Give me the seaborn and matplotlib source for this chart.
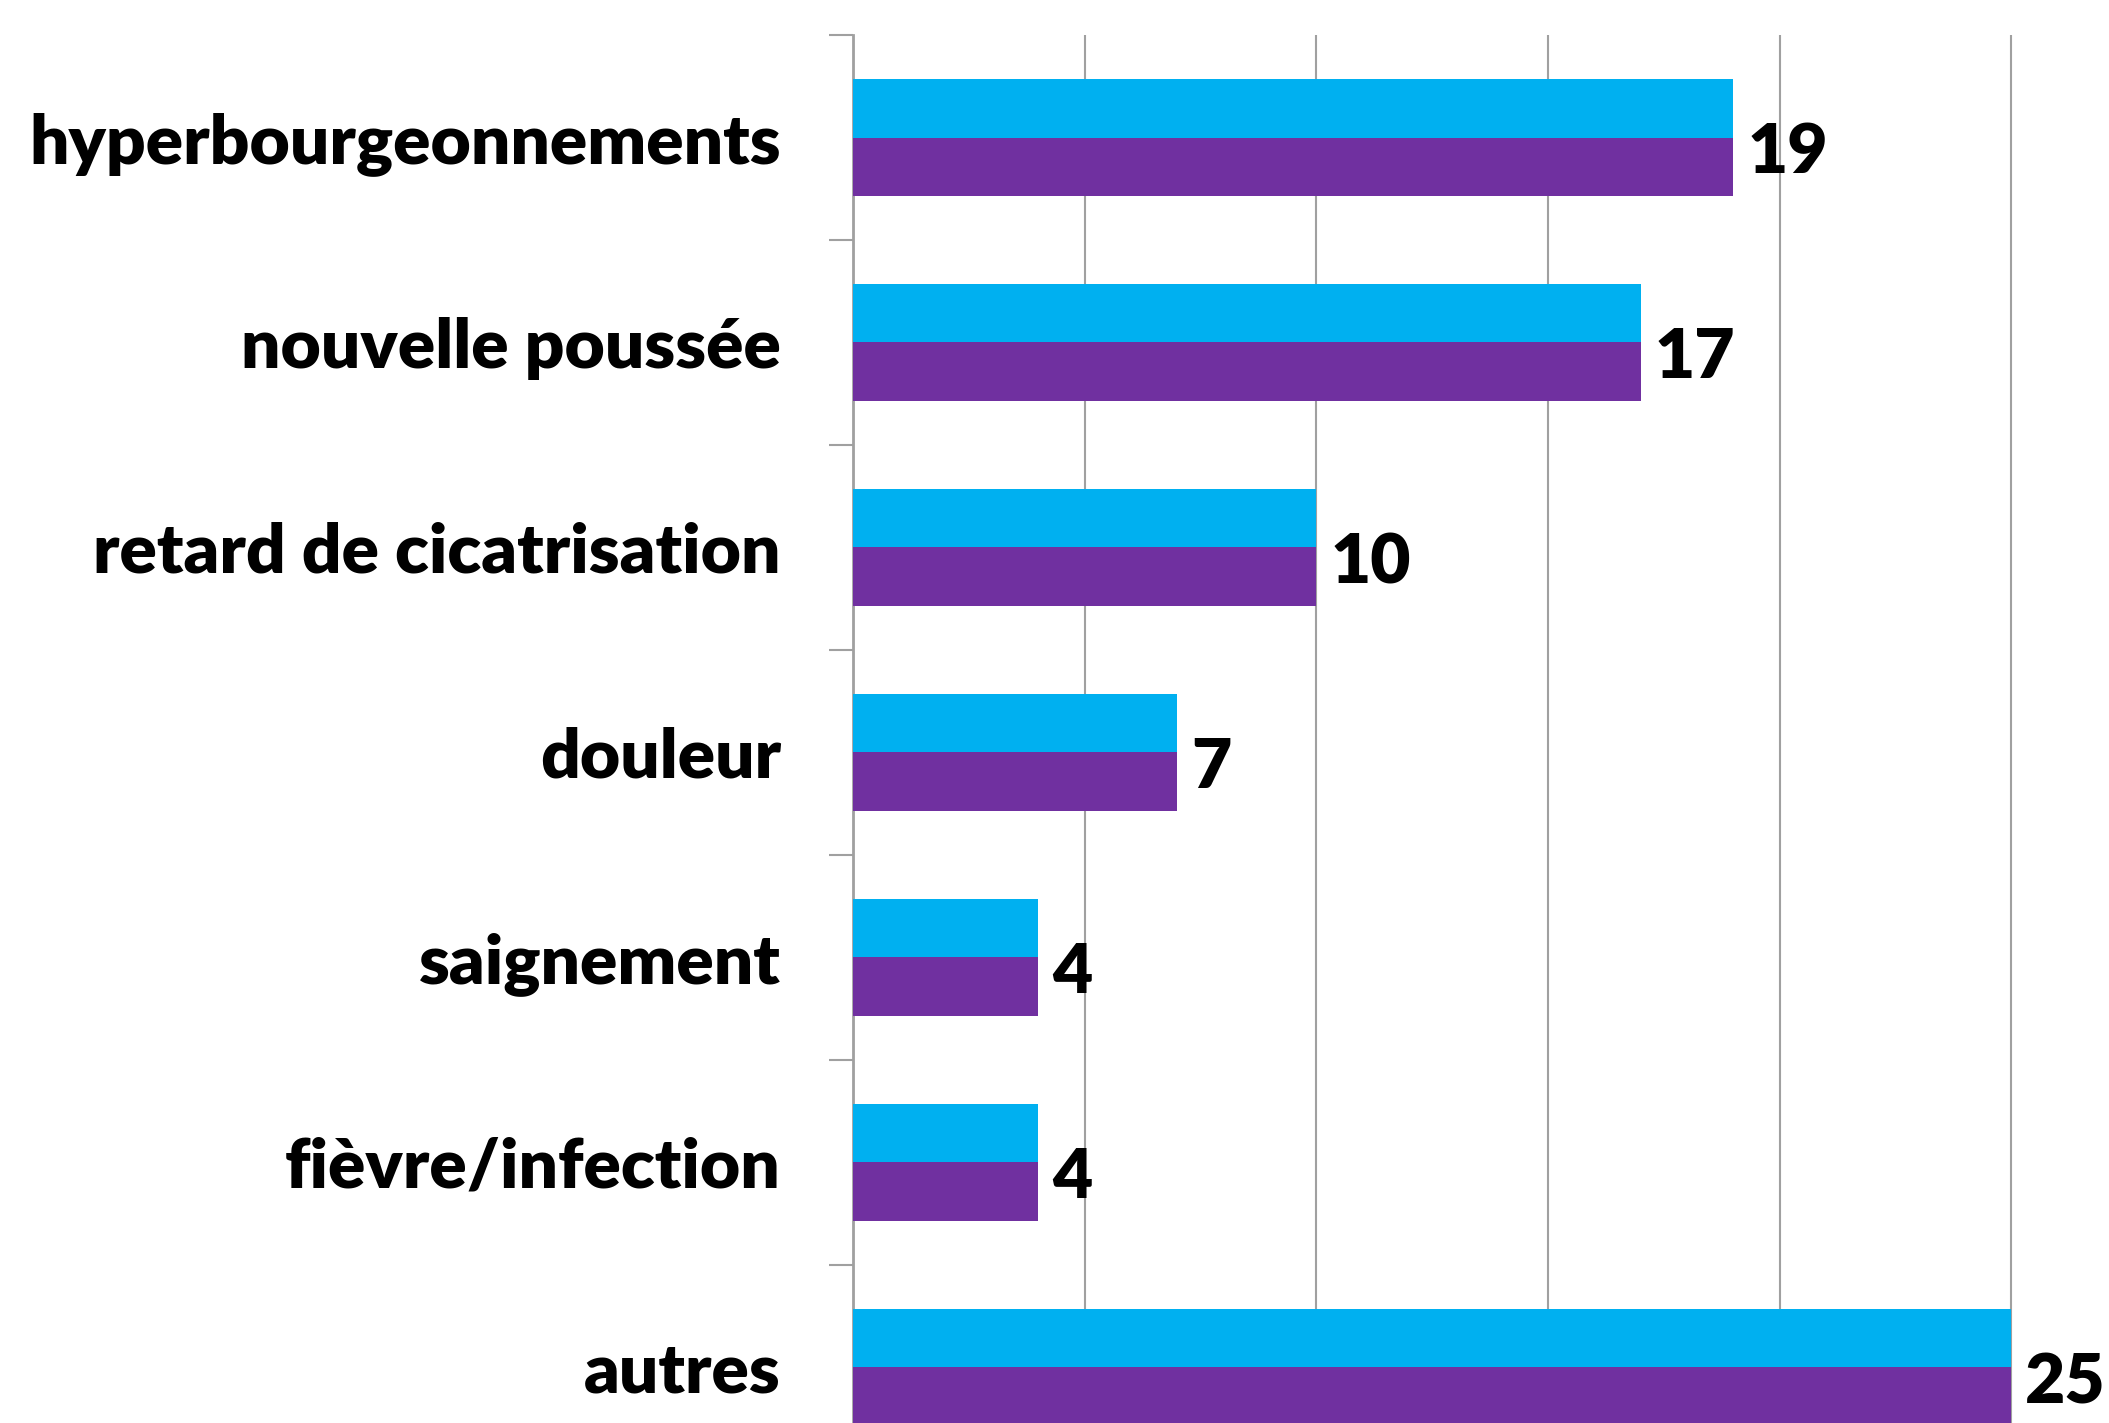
import matplotlib
matplotlib.use("Agg")
import matplotlib.pyplot as plt
import seaborn as sns
import pandas as pd
import numpy as np

categories = ["hyperbourgeonnements", "nouvelle poussée", "retard de cicatrisation",
              "douleur", "saignement", "fièvre/infection", "autres"]
serie1 = [19, 17, 10, 7, 4, 4, 25]
serie2 = [19, 17, 10, 7, 4, 4, 25]
series_names = ["Série 1", "Série 2"]
colors = ["#00B0F0", "#7030A0"]

sns.set_theme(style="white")
plt.rcParams['font.family'] = ['Lato', 'DejaVu Sans']

df = pd.DataFrame({
    "cat": categories * 2,
    "serie": [series_names[0]] * len(categories) + [series_names[1]] * len(categories),
    "val": serie1 + serie2,
})

fig = plt.figure(figsize=(21.09, 14.23), dpi=100)
ax = fig.add_axes([0.4045, -0.0330, 0.659, 1.0084])

sns.barplot(data=df, y="cat", x="val", hue="serie", order=categories,
            hue_order=series_names, palette=colors, orient="h",
            width=0.57, gap=0, dodge=True, ax=ax, legend=False,
            edgecolor="none", linewidth=0, saturation=1, zorder=3)

ax.set_xlim(0, 30)
ax.set_ylim(len(categories) - 0.5, -0.5)
ax.set_xlabel("")
ax.set_ylabel("")

# grid
ax.set_xticks(np.arange(0, 31, 5))
ax.tick_params(axis="x", length=0, labelbottom=False)
ax.grid(axis="x", color="#A0A0A0", linewidth=1.5, zorder=0)
ax.set_axisbelow(True)

# y ticks at boundaries, labels at centers
n = len(categories)
ax.set_yticks(np.arange(-0.5, n, 1))
ax.set_yticklabels([])
ax.tick_params(axis="y", which="major", left=True, length=17, width=1.5,
               color="#A0A0A0", direction="out")
ax.set_yticks(np.arange(n), minor=True)
ax.set_yticklabels(categories, minor=True, fontsize=50, fontweight="heavy", color="black")
ax.tick_params(axis="y", which="minor", left=True, length=0, pad=52)

for s in ["top", "right", "bottom"]:
    ax.spines[s].set_visible(False)
ax.spines["left"].set_color("#A0A0A0")
ax.spines["left"].set_linewidth(2)

# value labels
for i, v in enumerate(serie2):
    ax.text(v + 0.3, i + 0.08, str(v), va="center", ha="left",
            fontsize=50, fontweight="heavy", color="black", zorder=5)

fig.savefig("out.png", dpi=100)
